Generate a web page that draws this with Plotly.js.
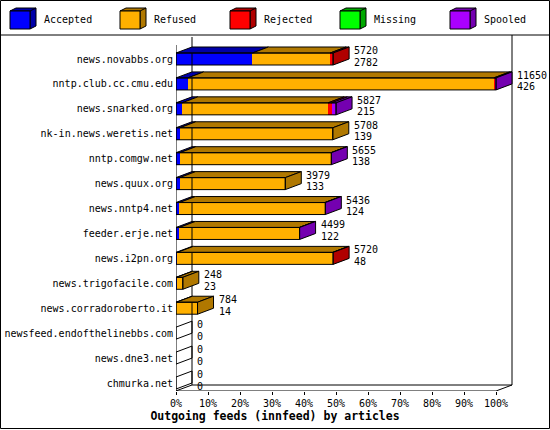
<!DOCTYPE html>
<html>
<head>
<meta charset="utf-8">
<script src="https://cdn.plot.ly/plotly-3.0.1.min.js"></script>
<style>
  html, body { margin: 0; padding: 0; background: #fff; }
  #chart { width: 550px; height: 430px; }
</style>
</head>
<body>
<div id="chart"></div>
<script>
// outgoing innfeed peers, top to bottom
var feeds = ['news.novabbs.org', 'nntp.club.cc.cmu.edu', 'news.snarked.org',
  'nk-in.news.weretis.net', 'nntp.comgw.net', 'news.quux.org', 'news.nntp4.net',
  'feeder.erje.net', 'news.i2pn.org', 'news.trigofacile.com',
  'news.corradoroberto.it', 'newsfeed.endofthelinebbs.com', 'news.dne3.net',
  'chmurka.net'];

// articles per peer
var accepted = [2782, 426, 215, 139, 138, 133, 124, 122, 48, 23, 14, 0, 0, 0];
var refused  = [2830, 11144, 5322, 5569, 5502, 3846, 5297, 4367, 5657, 225, 770, 0, 0, 0];
var rejected = [108, 60, 125, 0, 0, 0, 0, 0, 15, 0, 0, 0, 0, 0];
var missing  = [0, 0, 0, 0, 0, 0, 0, 0, 0, 0, 0, 0, 0, 0];
var spooled  = [0, 20, 165, 0, 15, 0, 15, 10, 0, 0, 0, 0, 0, 0];

var seriesNames = ['Accepted', 'Refused', 'Rejected', 'Missing', 'Spooled'];
var xTicks = [0, 10, 20, 30, 40, 50, 60, 70, 80, 90, 100];

var FONT = '"DejaVu Sans Mono", "Liberation Mono", monospace';
var front = ['#0000ff', '#ffb000', '#ff0000', '#00ff00', '#aa00ff'];
var dark  = ['#0000a8', '#b07800', '#b00000', '#00a800', '#7400b0'];

var series = [accepted, refused, rejected, missing, spooled];
var totals = feeds.map(function (f, i) {
  return series.reduce(function (s, a) { return s + a[i]; }, 0);
});
var maxTotal = Math.max.apply(null, totals);
function pct(v) { return v / maxTotal * 100; }

// geometry of the pseudo-3d frame
var W = 550, H = 430;
var mL = 176, mR = 37, mT = 35, mB = 39;
var rowPx = 24.92;
var pxPerPct = 3.2;
var yFloor = 13 + 8 / rowPx;
var yTop = -24 / rowPx;
var xMax = (W - mL - mR) / pxPerPct;
var dx = 16 / pxPerPct;           // depth in x units
var dy = 6 / rowPx;               // depth in row units
var half = 6 / rowPx;             // half bar height

function xp(px) { return (px - mL) / (W - mL - mR); }
function yp(py) { return (H - mB - py) / (H - mT - mB); }

var idx = feeds.map(function (f, i) { return i; });

var data = series.map(function (arr, k) {
  return {
    type: 'bar',
    orientation: 'h',
    name: seriesNames[k],
    y: idx,
    x: arr.map(pct),
    width: 2 * half,
    marker: { color: front[k], line: { width: 0 } },
    hoverinfo: 'skip',
    showlegend: false
  };
});

function P(pts) {
  return 'M' + pts.map(function (p) { return p[0] + ',' + p[1]; }).join('L') + 'Z';
}

var shapes = [];
var annotations = [];

// back wall / floor
var line = { color: '#000', width: 1 };
shapes.push({ type: 'line', xref: 'x', yref: 'y', x0: dx, x1: dx, y0: yFloor - dy, y1: (37 - 59) / rowPx, line: line });
shapes.push({ type: 'line', xref: 'x', yref: 'y', x0: 100 + dx, x1: 100 + dx, y0: yFloor - dy, y1: yTop, line: line });
shapes.push({ type: 'line', xref: 'x', yref: 'y', x0: dx, x1: 100 + dx, y0: yFloor - dy, y1: yFloor - dy, line: line });
shapes.push({ type: 'line', xref: 'x', yref: 'y', x0: 0, x1: 100, y0: yFloor, y1: yFloor, line: line });
shapes.push({ type: 'line', xref: 'x', yref: 'y', x0: -3 / pxPerPct, x1: dx, y0: yFloor + 1 / rowPx, y1: yFloor - dy, line: line });
shapes.push({ type: 'line', xref: 'x', yref: 'y', x0: 100, x1: 100 + dx, y0: yFloor, y1: yFloor - dy, line: line });
shapes.push({ type: 'line', xref: 'x', yref: 'y', x0: 0, x1: 0, y0: yFloor + 2 / rowPx, y1: (45 - 59) / rowPx, line: line });

// 3d faces of each bar
feeds.forEach(function (f, i) {
  var yt = i - half, yb = i + half;
  var start = 0, last = -1;
  series.forEach(function (arr, k) {
    var v = pct(arr[i]);
    if (v <= 0) return;
    shapes.push({
      type: 'path', xref: 'x', yref: 'y',
      path: P([[start, yt], [start + v, yt], [start + v + dx, yt - dy], [start + dx, yt - dy]]),
      fillcolor: dark[k], line: line
    });
    start += v;
    last = k;
  });
  var T = pct(totals[i]);
  shapes.push({
    type: 'path', xref: 'x', yref: 'y',
    path: P([[T, yt], [T + dx, yt - dy], [T + dx, yb - dy], [T, yb]]),
    fillcolor: last >= 0 ? dark[last] : 'rgba(0,0,0,0)', line: line
  });
  if (T > 0) {
    shapes.push({ type: 'rect', xref: 'x', yref: 'y', x0: 0, x1: T, y0: yt, y1: yb,
      fillcolor: 'rgba(0,0,0,0)', line: line });
  }
  // count labels: x in paper units so the widest bar's label is not clipped
  [[totals[i], -8.5], [accepted[i], 3]].forEach(function (t) {
    annotations.push({
      xref: 'paper', yref: 'y', x: (T + dx + 3 / pxPerPct) / xMax, y: i + t[1] / rowPx,
      xanchor: 'left', yanchor: 'middle', showarrow: false,
      text: String(t[0]), font: { family: FONT, size: 10, color: '#000' }
    });
  });
});

// legend row
seriesNames.forEach(function (name, k) {
  var bx = 10 + 110 * k, by = 11, bw = 20, bh = 18, ddx = 6, ddy = 3;
  shapes.push({ type: 'path', xref: 'paper', yref: 'paper', fillcolor: dark[k], line: line,
    path: P([[xp(bx), yp(by)], [xp(bx + ddx), yp(by - ddy)], [xp(bx + bw + ddx), yp(by - ddy)],
             [xp(bx + bw + ddx), yp(by + bh - ddy)], [xp(bx + bw), yp(by + bh)], [xp(bx + bw), yp(by)]]) });
  shapes.push({ type: 'rect', xref: 'paper', yref: 'paper', fillcolor: front[k], line: line,
    x0: xp(bx), x1: xp(bx + bw), y0: yp(by), y1: yp(by + bh) });
  shapes.push({ type: 'line', xref: 'paper', yref: 'paper', line: line,
    x0: xp(bx + bw), x1: xp(bx + bw + ddx), y0: yp(by), y1: yp(by - ddy) });
  annotations.push({ xref: 'paper', yref: 'paper', x: xp(bx + 32), y: yp(20),
    xanchor: 'left', yanchor: 'middle', showarrow: false, text: name,
    font: { family: FONT, size: 10, color: '#000' } });
});

// header rule and outer frame
shapes.push({ type: 'line', xref: 'paper', yref: 'paper', line: line,
  x0: xp(0), x1: xp(W), y0: yp(35), y1: yp(35) });
shapes.push({ type: 'rect', xref: 'paper', yref: 'paper', line: line, fillcolor: 'rgba(0,0,0,0)',
  x0: xp(0.5), x1: xp(W - 0.5), y0: yp(0.5), y1: yp(H - 1.5) });

var layout = {
  width: W, height: H,
  margin: { l: mL, r: mR, t: mT, b: mB, pad: 0 },
  paper_bgcolor: '#fff', plot_bgcolor: '#fff',
  barmode: 'stack',
  showlegend: false,
  font: { family: FONT, size: 10, color: '#000' },
  title: {
    text: '<b>Outgoing feeds (innfeed) by articles</b>',
    font: { family: FONT, size: 11.5, color: '#000' },
    xref: 'container', x: 0.5, xanchor: 'center',
    yref: 'container', y: 1 - 416 / H, yanchor: 'middle'
  },
  xaxis: {
    range: [0, xMax], showgrid: false, zeroline: false, showline: false,
    tickvals: xTicks, ticktext: xTicks.map(function (t) { return t + '%'; }),
    ticks: 'outside', ticklen: 3, tickcolor: '#000',
    tickfont: { family: FONT, size: 10, color: '#000' }, fixedrange: true
  },
  yaxis: {
    range: [yFloor, yTop], showgrid: false, zeroline: false, showline: false,
    tickvals: idx, ticktext: feeds, ticks: '', ticklen: 0, ticklabelstandoff: 2,
    tickfont: { family: FONT, size: 10, color: '#000' }, fixedrange: true
  },
  shapes: shapes,
  annotations: annotations
};

Plotly.newPlot('chart', data, layout, { displayModeBar: false, staticPlot: true });
</script>
</body>
</html>
